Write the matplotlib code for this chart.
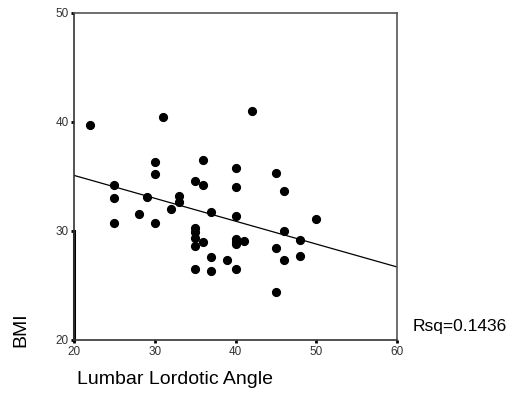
import matplotlib.pyplot as plt

plt.rcParams['font.family'] = ['Liberation Sans', 'DejaVu Sans']

# lumbar lordotic angle (deg) vs BMI
angle = [22, 31, 30, 30, 25, 25, 29, 33, 33, 32, 28, 25, 30,
         36, 40, 35, 36, 40, 37, 40,
         35, 35, 35, 35, 36, 40, 40, 40, 41, 37, 39, 35, 37, 40,
         42, 45, 46, 50, 46, 48, 45, 46, 48, 45]
bmi = [39.7, 40.5, 36.3, 35.2, 34.2, 33.0, 33.1, 33.2, 32.7, 32.0, 31.6, 30.7, 30.7,
       36.5, 35.8, 34.6, 34.2, 34.0, 31.7, 31.4,
       30.3, 29.9, 29.4, 28.6, 29.0, 29.3, 29.0, 28.8, 29.1, 27.6, 27.3, 26.5, 26.3, 26.5,
       41.0, 35.3, 33.7, 31.1, 30.0, 29.2, 28.4, 27.3, 27.7, 24.4]

# fitted line ends as drawn
fit_x = [20, 60]
fit_y = [35.1, 26.7]
xticks = [20, 30, 40, 50, 60]
yticks = [20, 30, 40, 50]

fig = plt.figure(figsize=(5.18, 3.97), dpi=100)
ax = fig.add_axes([0.1429, 0.1436, 0.6236, 0.8237])

ax.plot(fit_x, fit_y, color='black', lw=0.9)
ax.plot(angle, bmi, 'o', color='black', ms=5.6, mec='black')

ax.set_xlim(20, 60)
ax.set_ylim(20, 50)
ax.set_xticks(xticks)
ax.set_yticks(yticks)
ax.tick_params(direction='out', length=2, width=2, pad=2, labelsize=8.5,
               labelcolor='#333333', color='black')
for s in ['top', 'right']:
    ax.spines[s].set_color('#555555')
    ax.spines[s].set_linewidth(1.2)
for s in ['left', 'bottom']:
    ax.spines[s].set_color('#333333')
    ax.spines[s].set_linewidth(1.2)
# heavier stroke on the lower part of the y axis
ax.plot([20, 20], [20, 30], color='black', lw=2.2, clip_on=False)

fig.text(0.041, 0.169, 'BMI', rotation=90, fontsize=14,
         ha='center', va='center')
fig.text(0.338, 0.043, 'Lumbar Lordotic Angle', fontsize=14,
         ha='center', va='center')
fig.text(0.797, 0.177, 'Rsq=0.1436', fontsize=12.5, ha='left', va='center')

fig.savefig('out.png', dpi=100)
